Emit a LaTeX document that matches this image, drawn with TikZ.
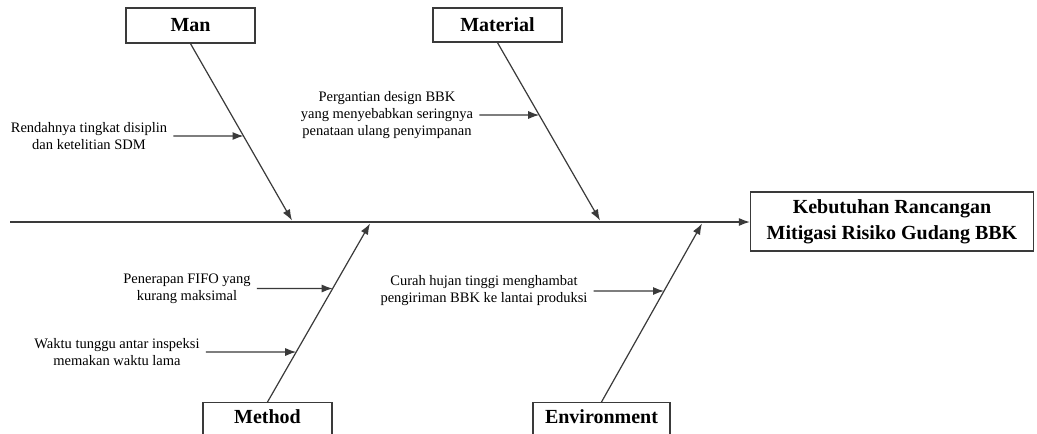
\documentclass[tikz,border=0pt]{standalone}
\usepackage{fontspec}
\setmainfont{Liberation Serif}
\usetikzlibrary{arrows.meta,calc}
\definecolor{linegray}{HTML}{3A3A3A}
\tikzset{
  catbox/.style={draw=linegray, line width=1.3pt, fill=white, font=\fontsize{20}{24}\selectfont\bfseries, inner sep=0pt, minimum width=129pt, align=center},
  cause/.style={font=\fontsize{14.5}{17}\selectfont, align=center, inner sep=6pt},
  bone/.style={draw=linegray, line width=1.2pt, -{Latex[length=11pt,width=8pt]}},
}
\begin{document}
\begin{tikzpicture}[x=1pt,y=-1pt]
\useasboundingbox (0,0) rectangle (1037,434);
\clip (0,0) rectangle (1037,434);
\fill[white] (0,0) rectangle (1037,434);

% category boxes
\node[catbox, minimum height=35pt] (man) at (190.5,25.5) {Man};
\node[catbox, minimum height=34pt] (material) at (497.5,25) {Material};
\node[catbox, anchor=north, text height=15pt, text depth=30pt, inner ysep=6pt] (method) at (267.5,402) {Method};
\node[catbox, anchor=north, text height=15pt, text depth=30pt, inner ysep=6pt, minimum width=137pt] (env) at (601.5,402) {Environment};
\node[catbox, minimum width=283pt, minimum height=59pt, font=\fontsize{20}{26}\selectfont\bfseries] (effect) at (892,221.5) {Kebutuhan Rancangan\\Mitigasi Risiko Gudang BBK};

% spine
\coordinate (s0) at (10,222);
\draw[bone] (s0) -- (s0 -| effect.west);

% bone tips
\coordinate (tman) at (292,220.5);
\coordinate (tmat) at (600,220.5);
\coordinate (tmet) at (370,223.5);
\coordinate (tenv) at (702,223.5);

\draw[bone] (man.south) -- (tman);
\draw[bone] (material.south) -- (tmat);
\draw[bone] (method.north) -- (tmet);
\draw[bone] (env.north) -- (tenv);

% causes
\node[cause] (c1) at (89,136) {Rendahnya tingkat disiplin\\dan ketelitian SDM};
\node[cause] (c2) at (387,115) {Pergantian design BBK\\yang menyebabkan seringnya\\penataan ulang penyimpanan};
\node[cause] (c3) at (187,288.5) {Penerapan FIFO yang\\kurang maksimal};
\node[cause] (c4) at (117,352) {Waktu tunggu antar inspeksi\\memakan waktu lama};
\node[cause] (c5) at (484,291) {Curah hujan tinggi menghambat\\pengiriman BBK ke lantai produksi};

\draw[bone] (c1.east) -- (intersection cs: first line={(man.south)--(tman)}, second line={(c1.east)--($(c1.east)+(10,0)$)});
\draw[bone] (c2.east) -- (intersection cs: first line={(material.south)--(tmat)}, second line={(c2.east)--($(c2.east)+(10,0)$)});
\draw[bone] (c3.east) -- (intersection cs: first line={(method.north)--(tmet)}, second line={(c3.east)--($(c3.east)+(10,0)$)});
\draw[bone] (c4.east) -- (intersection cs: first line={(method.north)--(tmet)}, second line={(c4.east)--($(c4.east)+(10,0)$)});
\draw[bone] (c5.east) -- (intersection cs: first line={(env.north)--(tenv)}, second line={(c5.east)--($(c5.east)+(10,0)$)});
\end{tikzpicture}
\end{document}
